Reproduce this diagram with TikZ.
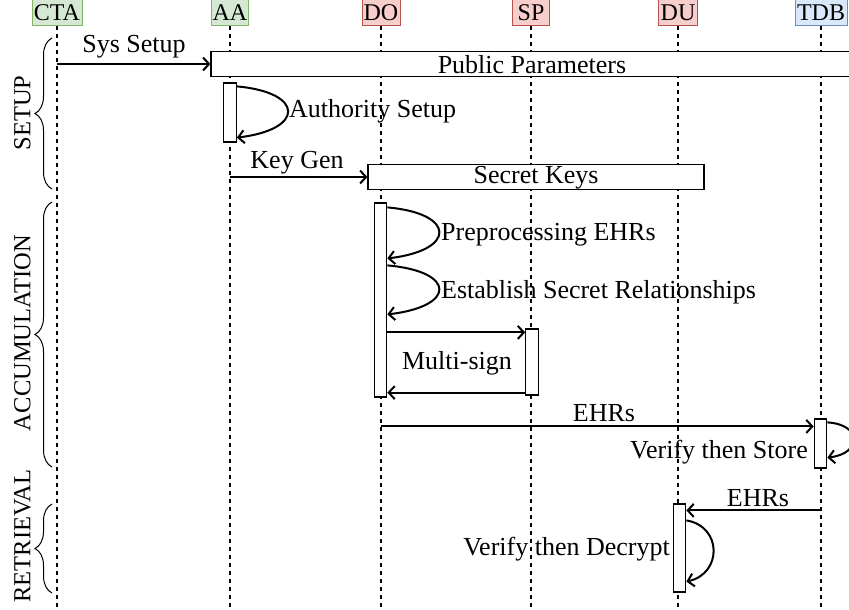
\documentclass[tikz,border=0pt]{standalone}
\usepackage{fontspec}
\setmainfont{Liberation Serif}
\usetikzlibrary{arrows.meta,decorations.pathreplacing}
\definecolor{gfill}{HTML}{D5E8D4}
\definecolor{gdraw}{HTML}{82B366}
\definecolor{rfill}{HTML}{F8CECC}
\definecolor{rdraw}{HTML}{B85450}
\definecolor{bfill}{HTML}{DAE8FC}
\definecolor{bdraw}{HTML}{6C8EBF}
\begin{document}
\begin{tikzpicture}[x=1pt,y=-1pt,
  hdr/.style={minimum height=26pt, inner sep=0pt, line width=1pt, font=\fontsize{24}{28}\selectfont},
  ghdr/.style={hdr, draw=gdraw, fill=gfill},
  rhdr/.style={hdr, draw=rdraw, fill=rfill},
  bhdr/.style={hdr, draw=bdraw, fill=bfill},
  life/.style={dash pattern=on 4pt off 4pt, line width=1.3pt},
  msg/.style={line width=2pt, -{Straight Barb[length=6pt,width=13pt]}},
  bigbox/.style={draw, fill=white, line width=1.2pt, inner sep=0pt, minimum height=25pt, font=\fontsize{26}{30}\selectfont},
  act/.style={draw, fill=white, line width=1.2pt, inner sep=0pt, minimum width=12.5pt},
  lbl/.style={inner sep=0pt, font=\fontsize{26}{30}\selectfont},
  phase/.style={rotate=90, inner sep=0pt, font=\fontsize{24.5}{28}\selectfont},
  brc/.style={decorate, decoration={brace, amplitude=17pt}, line width=1pt}
]
\path[use as bounding box] (0,0) rectangle (849,610);
\coordinate (bot) at (0,612);

% headers
\node[ghdr, minimum width=50pt] (cta) at (57,13) {CTA};
\node[ghdr, minimum width=37pt] (aa) at (230,13) {AA};
\node[rhdr, minimum width=38pt] (do) at (381,13) {DO};
\node[rhdr, minimum width=37pt] (sp) at (531,13) {SP};
\node[rhdr, minimum width=39pt] (du) at (678,13) {DU};
\node[bhdr, minimum width=52pt] (tdb) at (821,13) {TDB};

% lifelines
\foreach \n in {cta,aa,do,sp,du,tdb}
  \draw[life] (\n.south) -- (\n.south |- bot);

% phase braces
\coordinate (s1) at (52,189);
\coordinate (s2) at (52,38);
\coordinate (a1) at (52,467);
\coordinate (a2) at (52,202);
\coordinate (r1) at (52,593);
\coordinate (r2) at (52,504);
\draw[brc] (s1) -- (s2);
\draw[brc] (a1) -- (a2);
\draw[brc] (r1) -- (r2);
\node[phase] (lsetup) at (22.5,113) {SETUP};
\node[phase] (lacc) at (22.5,333) {ACCUMULATION};
\node[phase] (lret) at (22.5,536) {RETRIEVAL};

% setup
\node[bigbox, minimum width=646pt] (pp) at (534,64) {};
\node[lbl] (pptxt) at (532,65) {Public Parameters};
\draw[msg] (cta |- pp.west) -- (pp.west);
\node[lbl] (lsys) at (134,47) {Sys Setup};

\node[act, minimum height=59pt] (aaact) at (230,112.5) {};
\draw[msg] ([yshift=-4pt]aaact.north east) .. controls +(68,6) and +(68,-8) .. ([yshift=5pt]aaact.south east);
\node[lbl, anchor=west] (lauth) at (289,111) {Authority Setup};

\node[bigbox, minimum width=336pt] (sk) at (536,177) {};
\node[lbl] (sktxt) at (536,178) {Secret Keys};
\draw[msg] (aa |- sk.west) -- (sk.west);
\node[lbl] (lkey) at (297,163) {Key Gen};

% accumulation
\node[act, minimum height=194pt] (doact) at (380.5,300) {};
\draw[msg] ([yshift=-5pt]doact.north east) .. controls +(69,6) and +(69,-8) .. ([yshift=-56pt]doact.north east);
\node[lbl, anchor=west] (lpre) at (441,235) {Preprocessing EHRs};
\draw[msg] ([yshift=-63pt]doact.north east) .. controls +(69,6) and +(69,-8) .. ([yshift=-112pt]doact.north east);
\node[lbl, anchor=west] (lest) at (441,292) {Establish Secret Relationships};

\node[act, minimum height=66pt] (spact) at (532,362) {};
\coordinate (m1) at ([yshift=-4pt]spact.north west);
\coordinate (m2) at ([yshift=3pt]spact.south west);
\draw[msg] (doact.east |- m1) -- (m1);
\draw[msg] (m2) -- (doact.east |- m2);
\node[lbl] (lms) at (457,363) {Multi-sign};

\node[act, minimum height=49pt] (tdbact) at (820.5,443.5) {};
\coordinate (e1) at ([yshift=-8pt]tdbact.north west);
\draw[msg] (do |- e1) -- (e1);
\node[lbl] (lehr1) at (604,413) {EHRs};
\draw[msg] ([yshift=-4pt]tdbact.north east) .. controls +(35,2) and +(35,-4) .. ([yshift=11pt]tdbact.south east);
\node[lbl, anchor=east] (lvs) at (808,452) {Verify then Store};

% retrieval
\node[act, minimum height=88pt] (duact) at (679.5,548) {};
\coordinate (e2) at ([yshift=-7pt]duact.north east);
\draw[msg] (tdb |- e2) -- (e2);
\node[lbl] (lehr2) at (758,498) {EHRs};
\draw[msg] ([yshift=-17pt]duact.north east) .. controls +(36,6) and +(36,-8) .. ([yshift=11pt]duact.south east);
\node[lbl, anchor=east] (lvd) at (670,549) {Verify then Decrypt};
\end{tikzpicture}
\end{document}
